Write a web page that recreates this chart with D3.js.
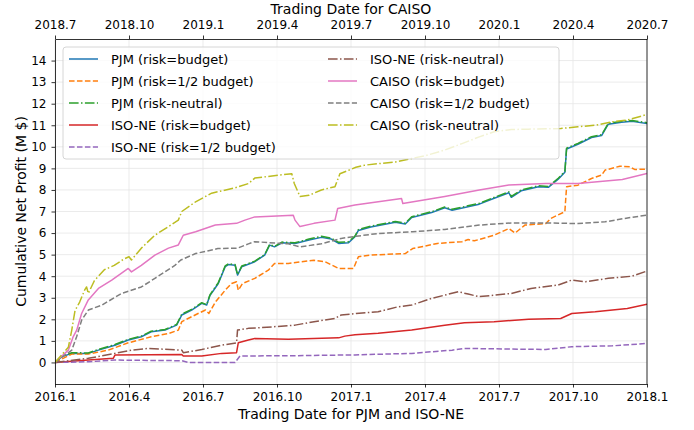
<!DOCTYPE html>
<html>
<head>
<meta charset="utf-8">
<script src="https://cdn.jsdelivr.net/npm/d3@7"></script>
<style>
  body { margin: 0; background: #fff; }
  text { font-family: "DejaVu Sans", sans-serif; }
</style>
</head>
<body>
<svg id="chart" width="694" height="430"></svg>
<script>
// tick positions in months from the start of each window, and their labels
const tickMonths = [0, 3, 6, 9, 12, 15, 18, 21, 24]
const bottomTickLabels = ["2016.1", "2016.4", "2016.7", "2016.10", "2017.1", "2017.4", "2017.7", "2017.10", "2018.1"]
const topTickLabels = ["2018.7", "2018.10", "2019.1", "2019.4", "2019.7", "2019.10", "2020.1", "2020.4", "2020.7"]
const yTicks = [0, 1, 2, 3, 4, 5, 6, 7, 8, 9, 10, 11, 12, 13, 14]

// series: [months since start, cumulative profit in M $]
const pjmBudget = [[0,0],[0.27,0.26],[0.68,0.42],[1.35,0.42],[1.76,0.57],[2.43,0.8],[2.97,1.04],[3.5,1.19],[3.9,1.42],[4.46,1.5],[4.93,1.73],[5.14,2.2],[5.54,2.43],[5.95,2.74],[6.15,2.66],[6.28,3.1],[6.62,3.66],[6.9,4.44],[7.03,4.54],[7.3,4.51],[7.4,4.05],[7.57,4.44],[8.1,4.67],[8.5,4.98],[8.7,5.44],[8.9,5.36],[9.2,5.55],[9.73,5.52],[10.3,5.68],[10.8,5.8],[11.2,5.72],[11.5,5.52],[11.9,5.55],[12.16,5.83],[12.3,6.12],[12.8,6.28],[13.8,6.5],[14.2,6.42],[14.46,6.72],[15.27,6.95],[15.8,7.17],[16.1,7.06],[17.2,7.34],[17.7,7.57],[18.4,7.87],[18.5,7.66],[18.9,7.96],[19.6,8.15],[20.0,8.12],[20.4,8.5],[20.67,8.82],[20.74,9.9],[21.2,10.12],[21.75,10.43],[22.16,10.52],[22.43,11.05],[22.97,11.14],[23.4,11.18],[24,11.08]]
const pjmHalf = [[0,0],[0.68,0.39],[1.35,0.39],[2.16,0.57],[2.97,0.91],[3.9,1.19],[4.6,1.34],[5.0,1.5],[5.14,1.89],[5.8,2.27],[6.1,2.43],[6.24,2.27],[6.5,2.8],[6.9,3.35],[7.16,3.66],[7.36,3.74],[7.43,3.35],[7.6,3.66],[8.1,3.9],[8.65,4.28],[8.9,4.59],[9.46,4.59],[10.5,4.74],[10.95,4.67],[11.5,4.36],[11.9,4.36],[12.1,4.36],[12.3,4.9],[12.8,4.98],[14.2,5.05],[14.5,5.28],[15.5,5.52],[16.5,5.6],[16.75,5.7],[17.0,5.64],[17.8,5.9],[18.4,6.21],[18.65,6.0],[19.05,6.37],[19.9,6.44],[20.1,6.68],[20.67,6.99],[20.74,8.15],[21.2,8.22],[21.75,8.53],[22.16,8.69],[22.3,8.92],[22.9,9.1],[23.3,9.07],[23.5,8.95],[24,8.96]]
const pjmNeutral = [[0,0],[0.27,0.28],[0.68,0.45],[1.35,0.44],[1.76,0.6],[2.43,0.83],[2.97,1.07],[3.5,1.22],[3.9,1.45],[4.46,1.53],[4.93,1.76],[5.14,2.24],[5.54,2.46],[5.95,2.77],[6.15,2.68],[6.28,3.13],[6.62,3.7],[6.9,4.48],[7.03,4.57],[7.3,4.54],[7.4,4.07],[7.57,4.47],[8.1,4.7],[8.5,5.0],[8.7,5.47],[8.9,5.38],[9.2,5.58],[9.73,5.55],[10.3,5.72],[10.8,5.85],[11.2,5.76],[11.5,5.57],[11.9,5.6],[12.16,5.86],[12.3,6.16],[12.8,6.32],[13.8,6.54],[14.2,6.46],[14.46,6.76],[15.27,6.99],[15.8,7.21],[16.1,7.1],[17.2,7.38],[17.7,7.61],[18.4,7.91],[18.5,7.7],[18.9,8.0],[19.6,8.19],[20.0,8.16],[20.4,8.54],[20.67,8.86],[20.74,9.94],[21.2,10.16],[21.75,10.47],[22.16,10.56],[22.43,11.09],[22.97,11.18],[23.4,11.22],[24,11.12]]
const isoBudget = [[0,0],[1.35,0.11],[2.36,0.19],[2.43,0.34],[5.14,0.37],[5.2,0.3],[5.95,0.3],[6.76,0.42],[7.36,0.45],[7.43,0.91],[7.84,1.04],[8.1,1.11],[9.46,1.07],[11.5,1.14],[11.75,1.22],[12.16,1.28],[13.1,1.35],[14.46,1.5],[15.8,1.73],[16.6,1.84],[17.8,1.89],[19.2,2.0],[20.5,2.04],[20.95,2.27],[21.9,2.35],[23.2,2.5],[24,2.7]]
const isoHalf = [[0,0],[1.35,0.03],[2.43,0.11],[5.14,0.08],[5.4,0],[7.3,0],[7.5,0.3],[9.46,0.31],[11.5,0.34],[12.16,0.35],[14.46,0.42],[16.1,0.57],[16.6,0.65],[19.9,0.6],[20.95,0.73],[22.6,0.77],[24,0.88]]
const isoNeutral = [[0,0],[1.35,0.19],[2.43,0.42],[3.1,0.57],[3.8,0.65],[5.14,0.57],[5.2,0.45],[5.95,0.6],[6.76,0.8],[7.36,0.91],[7.4,1.5],[7.84,1.58],[8.8,1.65],[9.73,1.73],[10.5,1.89],[11.35,2.04],[11.6,2.2],[12.2,2.27],[13.1,2.35],[13.9,2.58],[14.46,2.66],[15.27,2.97],[16.35,3.28],[16.75,3.17],[17.2,3.05],[18.5,3.2],[19.3,3.43],[20.4,3.59],[20.95,3.82],[21.5,3.74],[22.43,3.9],[23.4,4.0],[24,4.24]]
const caisoBudget = [[0,0],[0.54,0.57],[0.74,1.2],[0.88,1.5],[1.08,2.27],[1.35,2.9],[1.76,3.43],[2.3,3.82],[2.97,4.36],[3.1,4.2],[3.5,4.5],[4.05,4.98],[4.6,5.3],[5.0,5.45],[5.2,5.9],[5.7,6.06],[6.5,6.37],[7.36,6.45],[7.7,6.6],[8.1,6.75],[9.66,6.83],[9.73,6.6],[9.93,6.3],[10.5,6.45],[11.35,6.6],[11.46,7.14],[12.16,7.3],[14.05,7.6],[14.1,7.37],[15.8,7.7],[17.2,8.0],[18.4,8.23],[19.9,8.3],[21.2,8.3],[23.0,8.48],[24,8.76]]
const caisoHalf = [[0,0],[0.68,0.57],[0.88,1.2],[1.08,1.96],[1.35,2.43],[1.9,2.66],[2.7,3.2],[3.5,3.5],[4.05,3.9],[4.86,4.5],[5.1,4.75],[5.7,5.05],[6.6,5.28],[7.4,5.3],[7.84,5.5],[8.1,5.6],[9.46,5.5],[9.93,5.36],[10.8,5.5],[11.6,5.75],[12.2,5.85],[13.1,5.98],[14.5,6.06],[15.8,6.17],[17.2,6.37],[18.5,6.47],[19.9,6.47],[21.2,6.44],[22.3,6.52],[23.1,6.68],[24,6.83]]
const caisoNeutral = [[0,0],[0.54,0.7],[0.68,1.5],[0.81,2.4],[1.0,2.8],[1.2,3.35],[1.28,3.5],[1.35,3.2],[1.6,3.8],[2.0,4.3],[2.4,4.5],[2.8,4.8],[3.0,4.9],[3.1,4.75],[3.5,5.3],[4.05,5.9],[4.6,6.3],[5.0,6.6],[5.14,7.0],[5.7,7.45],[6.35,7.85],[7.3,8.1],[7.85,8.3],[8.1,8.55],[8.8,8.65],[9.6,8.75],[9.7,8.3],[9.93,7.7],[10.3,7.75],[10.8,8.0],[11.35,8.15],[11.55,8.75],[12.2,9.05],[12.56,9.15],[13.8,9.3],[14.46,9.46],[15.05,9.6],[15.8,9.85],[16.5,10.15],[17.2,10.46],[17.8,10.7],[18.5,10.8],[19.2,10.82],[20.5,10.85],[21.2,10.93],[21.9,11.0],[22.6,11.16],[23.2,11.24],[24,11.5]]

const dashed = "5.55,2.4"
const dashDot = "9.6,2.4,1.5,2.4"
const series = [
    {name: "PJM (risk=budget)", data: pjmBudget, color: "#1f77b4", dash: null},
    {name: "PJM (risk=1/2 budget)", data: pjmHalf, color: "#ff7f0e", dash: dashed},
    {name: "PJM (risk-neutral)", data: pjmNeutral, color: "#2ca02c", dash: dashDot},
    {name: "ISO-NE (risk=budget)", data: isoBudget, color: "#d62728", dash: null},
    {name: "ISO-NE (risk=1/2 budget)", data: isoHalf, color: "#9467bd", dash: dashed},
    {name: "ISO-NE (risk-neutral)", data: isoNeutral, color: "#8c564b", dash: dashDot},
    {name: "CAISO (risk=budget)", data: caisoBudget, color: "#e377c2", dash: null},
    {name: "CAISO (risk=1/2 budget)", data: caisoHalf, color: "#7f7f7f", dash: dashed},
    {name: "CAISO (risk-neutral)", data: caisoNeutral, color: "#bcbd22", dash: dashDot}
]

const plotLeft = 55, plotRight = 647, plotTop = 39, plotBottom = 384

const svg = d3.select("#chart")
const x = d3.scaleLinear().domain([0, 24]).range([plotLeft, plotRight])
const y = d3.scaleLinear().domain([-1, 15]).range([plotBottom, plotTop])

// grid
const grid = svg.append("g")
grid.selectAll(".gx").data(tickMonths).enter().append("line")
    .attr("x1", d => x(d)).attr("x2", d => x(d))
    .attr("y1", plotTop).attr("y2", plotBottom)
    .attr("stroke", "#e6e6e6").attr("stroke-width", 0.8)
grid.selectAll(".gy").data(yTicks).enter().append("line")
    .attr("x1", plotLeft).attr("x2", plotRight)
    .attr("y1", d => y(d)).attr("y2", d => y(d))
    .attr("stroke", "#e6e6e6").attr("stroke-width", 0.8)

svg.append("clipPath").attr("id", "clip").append("rect")
    .attr("x", plotLeft).attr("y", plotTop)
    .attr("width", plotRight - plotLeft).attr("height", plotBottom - plotTop)

const line = d3.line().x(d => x(d[0])).y(d => y(d[1]))
const lines = svg.append("g").attr("clip-path", "url(#clip)")
series.forEach(function(s) {
    lines.append("path")
        .attr("d", line(s.data))
        .attr("fill", "none")
        .attr("stroke", s.color)
        .attr("stroke-width", 1.5)
        .attr("stroke-dasharray", s.dash)
        .attr("stroke-linejoin", "round")
})

// axes
function styleAxis(g) {
    g.selectAll("text").attr("font-size", 12).attr("font-family", "DejaVu Sans").attr("fill", "#000")
    g.selectAll("line").attr("stroke", "#000").attr("stroke-width", 0.8)
    g.select(".domain").attr("stroke", "#000").attr("stroke-width", 0.8)
}
svg.append("g").attr("transform", `translate(0,${plotBottom})`)
    .call(d3.axisBottom(x).tickValues(tickMonths).tickFormat((d, i) => bottomTickLabels[i])
        .tickSize(3.5).tickSizeOuter(0).tickPadding(4.5))
    .call(styleAxis)
svg.append("g").attr("transform", `translate(0,${plotTop})`)
    .call(d3.axisTop(x).tickValues(tickMonths).tickFormat((d, i) => topTickLabels[i])
        .tickSize(3.5).tickSizeOuter(0).tickPadding(6.5))
    .call(styleAxis)
svg.append("g").attr("transform", `translate(${plotLeft},0)`)
    .call(d3.axisLeft(y).tickValues(yTicks).tickSize(3.5).tickSizeOuter(0).tickPadding(5))
    .call(styleAxis)
svg.append("line").attr("x1", plotRight).attr("x2", plotRight).attr("y1", plotTop).attr("y2", plotBottom)
    .attr("stroke", "#000").attr("stroke-width", 0.8)

// axis labels
svg.append("text").attr("x", (plotLeft + plotRight) / 2).attr("y", 14).attr("text-anchor", "middle")
    .attr("font-size", 14).text("Trading Date for CAISO")
svg.append("text").attr("x", (plotLeft + plotRight) / 2).attr("y", 419).attr("text-anchor", "middle")
    .attr("font-size", 14).text("Trading Date for PJM and ISO-NE")
svg.append("text").attr("transform", `translate(26,${(plotTop + plotBottom) / 2}) rotate(-90)`)
    .attr("text-anchor", "middle").attr("font-size", 14).text("Cumulative Net Profit (M $)")

// legend
const legend = svg.append("g")
legend.append("rect").attr("x", 63).attr("y", 47).attr("width", 496).attr("height", 112)
    .attr("rx", 3).attr("fill", "#fff").attr("fill-opacity", 0.8)
    .attr("stroke", "#cccccc").attr("stroke-width", 0.8)
series.forEach(function(s, i) {
    const col = i < 5 ? 0 : 1
    const row = i < 5 ? i : i - 5
    const lx = col === 0 ? 69 : 328
    const ly = 59 + row * 22
    legend.append("line").attr("x1", lx).attr("x2", lx + 29).attr("y1", ly).attr("y2", ly)
        .attr("stroke", s.color).attr("stroke-width", 1.5).attr("stroke-dasharray", s.dash)
    legend.append("text").attr("x", lx + 42).attr("y", ly + 4.5).attr("font-size", 13).text(s.name)
})
</script>
</body>
</html>
